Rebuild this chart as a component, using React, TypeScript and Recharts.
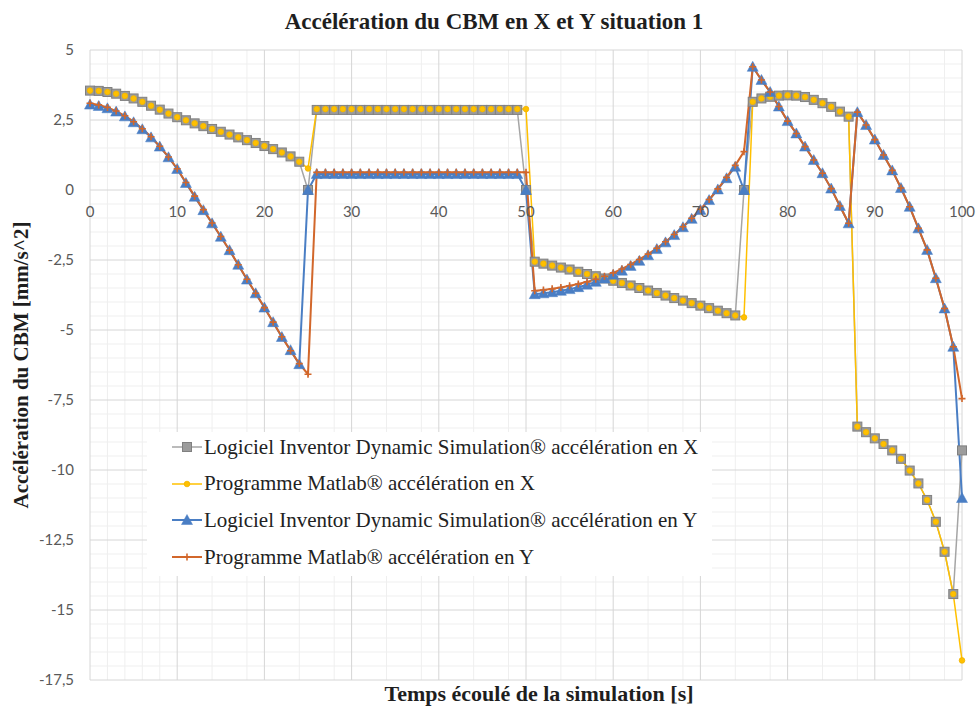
import React from 'react';
import { LineChart, Line, XAxis, YAxis, CartesianGrid, ReferenceDot } from 'recharts';

const time = [0,1,2,3,4,5,6,7,8,9,10,11,12,13,14,15,16,17,18,19,20,21,22,23,24,25,26,27,28,29,30,31,32,33,34,35,36,37,38,39,40,41,42,43,44,45,46,47,48,49,50,51,52,53,54,55,56,57,58,59,60,61,62,63,64,65,66,67,68,69,70,71,72,73,74,75,76,77,78,79,80,81,82,83,84,85,86,87,88,89,90,91,92,93,94,95,96,97,98,99,100];

const inventorX = [
  3.55,3.54,3.5,3.44,3.36,3.27,3.15,3.01,2.87,2.73,2.6,2.49,2.38,2.28,2.18,2.08,1.98,1.88,1.78,1.68,1.57,1.46,1.34,1.2,1.01,
  0,
  2.86,2.86,2.86,2.86,2.86,2.86,2.86,2.86,2.86,2.86,2.86,2.86,2.86,2.86,2.86,2.86,2.86,2.86,2.86,2.86,2.86,2.86,2.86,2.86,
  0,
  -2.56,-2.63,-2.7,-2.77,-2.84,-2.92,-3.0,-3.08,-3.16,-3.24,-3.32,-3.41,-3.5,-3.59,-3.68,-3.77,-3.86,-3.95,-4.04,-4.13,-4.22,-4.31,-4.4,-4.48,
  0,
  3.15,3.27,3.33,3.37,3.38,3.37,3.32,3.22,3.1,2.97,2.8,2.62,
  -8.45,-8.65,-8.87,-9.07,-9.3,-9.6,-10.02,-10.48,-11.07,-11.85,-12.92,-14.43,
  -9.3,
];

const matlabX = [
  3.55,3.54,3.5,3.44,3.36,3.27,3.15,3.01,2.87,2.73,2.6,2.49,2.38,2.28,2.18,2.08,1.98,1.88,1.78,1.68,1.57,1.46,1.34,1.2,1.01,
  0.77,
  2.89,2.89,2.89,2.89,2.89,2.89,2.89,2.89,2.89,2.89,2.89,2.89,2.89,2.89,2.89,2.89,2.89,2.89,2.89,2.89,2.89,2.89,2.89,2.89,2.89,
  -2.56,-2.63,-2.7,-2.77,-2.84,-2.92,-3.0,-3.08,-3.16,-3.24,-3.32,-3.41,-3.5,-3.59,-3.68,-3.77,-3.86,-3.95,-4.04,-4.13,-4.22,-4.31,-4.4,-4.48,-4.55,
  3.15,3.27,3.33,3.37,3.38,3.37,3.32,3.22,3.1,2.97,2.8,2.62,
  -8.45,-8.65,-8.87,-9.07,-9.3,-9.6,-10.02,-10.48,-11.07,-11.85,-12.92,-14.43,
  -16.8,
];

const inventorY = [
  3.05,3.0,2.92,2.8,2.63,2.42,2.17,1.88,1.55,1.17,0.75,0.25,-0.24,-0.72,-1.19,-1.67,-2.15,-2.67,-3.2,-3.69,-4.2,-4.72,-5.25,-5.72,-6.22,
  0,
  0.57,0.57,0.57,0.57,0.57,0.57,0.57,0.57,0.57,0.57,0.57,0.57,0.57,0.57,0.57,0.57,0.57,0.57,0.57,0.57,0.57,0.57,0.57,0.57,
  0,
  -3.72,-3.69,-3.65,-3.6,-3.54,-3.47,-3.38,-3.28,-3.16,-3.03,-2.88,-2.71,-2.53,-2.33,-2.11,-1.87,-1.61,-1.33,-1.03,-0.71,-0.36,0.02,0.42,0.83,
  0,
  4.4,3.93,3.5,2.98,2.46,2.02,1.55,1.07,0.6,0.05,-0.57,-1.19,
  2.78,2.32,1.8,1.25,0.7,0.07,-0.6,-1.37,-2.14,-3.15,-4.23,-5.6,
  -11.0,
];

const matlabY = [
  3.1,3.04,2.95,2.82,2.65,2.44,2.19,1.9,1.56,1.18,0.76,0.27,-0.22,-0.7,-1.18,-1.66,-2.15,-2.67,-3.19,-3.69,-4.2,-4.72,-5.24,-5.74,-6.2,
  -6.58,
  0.63,0.63,0.63,0.63,0.63,0.63,0.63,0.63,0.63,0.63,0.63,0.63,0.63,0.63,0.63,0.63,0.63,0.63,0.63,0.63,0.63,0.63,0.63,0.63,0.63,
  -3.6,-3.57,-3.53,-3.48,-3.42,-3.36,-3.28,-3.19,-3.08,-2.96,-2.82,-2.66,-2.48,-2.29,-2.08,-1.85,-1.59,-1.31,-1.01,-0.69,-0.34,0.04,0.45,0.88,1.37,
  4.4,3.93,3.5,2.98,2.46,2.02,1.55,1.07,0.6,0.05,-0.57,-1.19,
  2.78,2.32,1.8,1.25,0.7,0.07,-0.6,-1.37,-2.14,-3.15,-4.23,-5.6,
  -7.45,
];

const xTicks = [0,10,20,30,40,50,60,70,80,90,100];
const yTicks = [-17.5,-15,-12.5,-10,-7.5,-5,-2.5,0,2.5,5];
const xMinor = [2,4,6,8,12,14,16,18,22,24,26,28,32,34,36,38,42,44,46,48,52,54,56,58,62,64,66,68,72,74,76,78,82,84,86,88,92,94,96,98];
const yMinor = [-17,-16.5,-16,-15.5,-14.5,-14,-13.5,-13,-12,-11.5,-11,-10.5,-9.5,-9,-8.5,-8,-7,-6.5,-6,-5.5,-4.5,-4,-3.5,-3,-2,-1.5,-1,-0.5,0.5,1,1.5,2,3,3.5,4,4.5];

const title = 'Accélération du CBM en X et Y situation 1';
const xLabel = 'Temps écoulé de la simulation [s]';
const yLabel = 'Accélération du CBM [mm/s^2]';

const series = [
  { key: 'ix', name: 'Logiciel Inventor Dynamic Simulation® accélération en X', color: '#a5a5a5', marker: 'square', width: 1.5 },
  { key: 'mx', name: 'Programme Matlab® accélération en X', color: '#ffc000', marker: 'circle', width: 1.5 },
  { key: 'iy', name: 'Logiciel Inventor Dynamic Simulation® accélération en Y', color: '#4a7ec4', marker: 'triangle', width: 2 },
  { key: 'my', name: 'Programme Matlab® accélération en Y', color: '#d2672b', marker: 'star', width: 2 },
];

const data = time.map((t, i) => ({ t, ix: inventorX[i], mx: matlabX[i], iy: inventorY[i], my: matlabY[i] }));

const fmt = (v: number) => String(v).replace('.', ',');

function Marker({ kind, cx, cy, color }: { kind: string; cx: number; cy: number; color: string }) {
  if (cx == null || cy == null || isNaN(cx) || isNaN(cy)) return null;
  if (kind === 'square') {
    return <rect x={cx - 4.5} y={cy - 4.5} width={9} height={9} fill="#9c9c9c" stroke="#808080" strokeWidth={1} />;
  }
  if (kind === 'circle') {
    return <circle cx={cx} cy={cy} r={2.8} fill="#ffc000" stroke="#f0b400" strokeWidth={0.8} />;
  }
  if (kind === 'triangle') {
    return <path d={`M${cx},${cy - 5.5} L${cx + 5.5},${cy + 4.5} L${cx - 5.5},${cy + 4.5} Z`} fill={color} stroke={color} strokeWidth={0.5} />;
  }
  return (
    <path d={`M${cx - 3.5},${cy} L${cx + 3.5},${cy} M${cx},${cy - 3.5} L${cx},${cy + 3.5}`} stroke={color} strokeWidth={1.6} fill="none" />
  );
}

export default function App() {
  return (
    <div style={{ position: 'absolute', left: 0, top: 0, width: 980, height: 706, background: '#fff', overflow: 'hidden' }}>
      <LineChart width={980} height={706} data={data} margin={{ top: 50, right: 18, bottom: 26, left: 0 }}>
        <CartesianGrid stroke="#efefef" strokeWidth={1} verticalValues={xMinor} horizontalValues={yMinor} />
        <CartesianGrid stroke="#d6d6d6" strokeWidth={1} verticalValues={xTicks} horizontalValues={yTicks} />
        <XAxis dataKey="t" type="number" domain={[0, 100]} ticks={xTicks} hide />
        <YAxis
          type="number"
          domain={[-17.5, 5]}
          ticks={yTicks}
          width={90}
          axisLine={false}
          tickLine={false}
          tickSize={0}
          tickMargin={16}
          tickFormatter={fmt}
          tick={{ fill: '#595959', fontSize: 15, fontFamily: 'Lato' }}
          interval={0}
        />
        {xTicks.map((t) => (
          <ReferenceDot
            key={'xt' + t}
            x={t}
            y={0}
            r={0}
            fill="none"
            stroke="none"
            label={{ value: fmt(t), position: 'bottom', offset: 16, fill: '#595959', fontSize: 15, fontFamily: 'Lato' }}
          />
        ))}
        {series.map((s) => (
          <Line
            key={s.key}
            dataKey={s.key}
            name={s.name}
            type="linear"
            stroke={s.color}
            strokeWidth={s.width}
            isAnimationActive={false}
            dot={(p: any) => <Marker key={s.key + p.index} kind={s.marker} cx={p.cx} cy={p.cy} color={s.color} />}
            activeDot={false}
          />
        ))}
      </LineChart>
      <svg width={980} height={706} style={{ position: 'absolute', left: 0, top: 0, pointerEvents: 'none' }}>
        <text x={494} y={21} textAnchor="middle" dominantBaseline="central" fontFamily="Liberation Serif" fontWeight="bold" fontSize={23} fill="#1e1e1e">{title}</text>
        <text x={539} y={693} textAnchor="middle" dominantBaseline="central" fontFamily="Liberation Serif" fontWeight="bold" fontSize={22} fill="#1e1e1e">{xLabel}</text>
        <text x={21} y={365} transform="rotate(-90 21 365)" textAnchor="middle" dominantBaseline="central" fontFamily="Liberation Serif" fontWeight="bold" fontSize={21} fill="#1e1e1e">{yLabel}</text>
      </svg>
      <div style={{ position: 'absolute', left: 147, top: 432, width: 565, height: 144, background: '#fff' }}>
        {series.map((s, i) => (
          <div key={s.key} style={{ position: 'absolute', left: 25, top: 15 + i * 36.7 - 14, height: 28, display: 'flex', alignItems: 'center', whiteSpace: 'nowrap' }}>
            <svg width={32} height={16} style={{ display: 'block' }}>
              <line x1={0} y1={8} x2={30} y2={8} stroke={s.color} strokeWidth={s.width} />
              <Marker kind={s.marker} cx={15} cy={8} color={s.color} />
            </svg>
            <span style={{ fontFamily: 'Liberation Serif', fontSize: 21, color: '#222', marginLeft: 0 }}>{s.name}</span>
          </div>
        ))}
      </div>
    </div>
  );
}
